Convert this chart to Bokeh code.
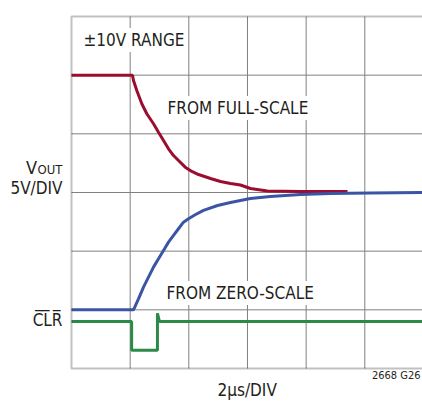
from bokeh.plotting import figure
from bokeh.models import Range1d, Label, BoxAnnotation
from bokeh.embed import file_html
from bokeh.resources import INLINE

# --- data (time in µs, values as plotted in V, 5V/DIV, 2µs/DIV) ---
red_t = [0, 2.08, 2.114, 2.226, 2.397, 2.567, 2.796, 2.966, 3.137, 3.307, 3.478, 3.648,
         3.877, 4.102, 4.330, 4.613, 4.74, 5.08, 5.42, 5.76, 6.10, 6.68, 7.81, 9.41]
red_v = [10, 10, 9.55, 8.69, 7.56, 6.71, 5.86, 5.14, 4.43, 3.72, 3.15, 2.73,
         2.16, 1.79, 1.53, 1.30, 1.19, 0.94, 0.77, 0.64, 0.34, 0.13, 0.09, 0.09]

blue_t = [0, 2.114, 2.284, 2.455, 2.625, 2.796, 2.966, 3.137, 3.307, 3.478, 3.648, 3.818,
          3.989, 4.217, 4.50, 4.98, 5.42, 6.10, 6.78, 7.81, 8.83, 10.19, 11.96]
blue_v = [-10, -10, -9.06, -8.07, -7.22, -6.36, -5.65, -4.94, -4.23, -3.66, -3.09, -2.53,
          -2.24, -1.90, -1.53, -1.11, -0.85, -0.51, -0.34, -0.17, -0.085, -0.04, 0.0]

clr_t = [0, 2.05, 2.05, 2.93, 2.93, 3.0, 11.96]
clr_v = [-11.0, -11.0, -13.45, -13.45, -10.3, -11.0, -11.0]

x_grid_ticks = [2, 4, 6, 8, 10]
y_grid_ticks = [-10, -5, 0, 5, 10]
x_min, x_max = 0, 12      # 6 divisions of 2 µs
y_min, y_max = -15, 15    # 6 divisions of 5 V

FONT = "DejaVu Sans Condensed"
RED = "#9b0d2f"
BLUE = "#3b55a4"
GREEN = "#2b8a47"
GRID = "#808080"

p = figure(width=422, height=402, output_backend="svg", toolbar_location=None,
           x_range=Range1d(-2.4207, 11.967), y_range=Range1d(-17.90, 16.364),
           x_axis_location=None, y_axis_location=None, min_border=0)
p.outline_line_color = None
p.grid.visible = False
p.background_fill_color = "white"
p.border_fill_color = "white"

# grid
p.segment(x0=x_grid_ticks, y0=[y_min] * len(x_grid_ticks),
          x1=x_grid_ticks, y1=[y_max] * len(x_grid_ticks),
          line_color=GRID, line_width=1)
p.segment(x0=[x_min] * len(y_grid_ticks), y0=y_grid_ticks,
          x1=[x_max + 1] * len(y_grid_ticks), y1=y_grid_ticks,
          line_color=GRID, line_width=1)

# traces
p.line(red_t, red_v, line_color=RED, line_width=3)
p.line(blue_t, blue_v, line_color=BLUE, line_width=3)
p.line(clr_t, clr_v, line_color=GREEN, line_width=3)

# frame (right side lies beyond the picture edge)
p.add_layout(BoxAnnotation(left=x_min, right=x_max + 1, bottom=y_min, top=y_max,
                           fill_color=None, line_color="#333333", line_width=2))

def lab(x, y, text, size, align="left", bg=None):
    kw = dict(x=x, y=y, text=text, text_font=FONT, text_font_size=size,
              text_align=align, text_baseline="alphabetic", text_color="#231f20")
    if bg:
        kw["background_fill_color"] = bg
        kw["padding"] = 2
    l = Label(**kw)
    p.add_layout(l)
    return l

lab(0.341, 13.00, "±10V RANGE", "17px", bg="white")
lab(3.205, 7.20, "FROM FULL-SCALE", "17px", bg="white")
lab(3.171, -8.56, "FROM ZERO-SCALE", "17px", bg="white")
lab(-1.176, 2.17, "V", "18px", align="right")
lab(-0.307, 2.00, "OUT", "13px", align="right")
lab(-0.307, 0.385, "5V/DIV", "17px", align="right")
lab(-0.307, -10.87, "C\u0305L\u0305R\u0305", "17px", align="right")
lab(4.978, -16.83, "2µs/DIV", "17px")
lab(11.90, -15.64, "2668 G26", "11px", align="right")

open("out.html", "w").write(file_html(p, INLINE))
